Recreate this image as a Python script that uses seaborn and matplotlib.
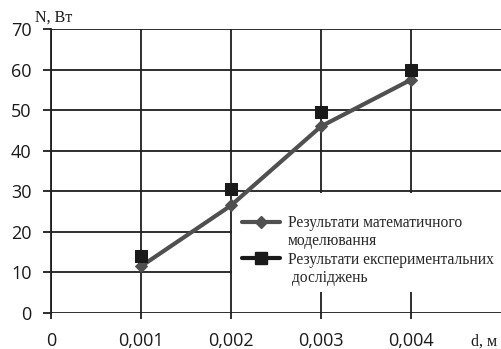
import matplotlib
matplotlib.use("Agg")
import matplotlib.pyplot as plt
import seaborn as sns
import pandas as pd
from matplotlib.lines import Line2D
from matplotlib.patches import Rectangle

# Data
d_values = [0.001, 0.002, 0.003, 0.004]
model_values = [11.5, 26.5, 46.0, 57.5]
exp_values = [14.0, 30.5, 49.5, 60.0]
x_ticks = [0, 0.001, 0.002, 0.003, 0.004]
x_tick_labels = ["0", "0,001", "0,002", "0,003", "0,004"]
y_ticks = [0, 10, 20, 30, 40, 50, 60, 70]
label_model = ["Результати математичного", "моделювання"]
label_exp = ["Результати експериментальних", " досліджень"]

df_model = pd.DataFrame({"d": d_values, "N": model_values})
df_exp = pd.DataFrame({"d": d_values, "N": exp_values})

sns.set_style("white")
plt.rcParams["font.family"] = ["Open Sans", "DejaVu Sans"]

fig = plt.figure(figsize=(5.02, 3.49), dpi=100)
ax = fig.add_axes([51 / 502, (349 - 313) / 349, 450 / 502, 284 / 349])

grid_color = "#1e1e1e"
model_color = "#505050"
exp_color = "#1a1a1a"

sns.lineplot(data=df_model, x="d", y="N", ax=ax, color=model_color, lw=3,
             marker="D", markersize=6, markeredgecolor=model_color, zorder=3, legend=False)
sns.scatterplot(data=df_exp, x="d", y="N", ax=ax, color=exp_color, marker="s", s=85,
                edgecolor=exp_color, zorder=4, legend=False)

ax.set_xlim(0, 0.005)
ax.set_ylim(0, 70)
ax.set_xticks(x_ticks)
ax.set_xticklabels(x_tick_labels)
ax.set_yticks(y_ticks)
ax.set_xlabel("")
ax.set_ylabel("")
ax.grid(True, color=grid_color, lw=1.3)
ax.set_axisbelow(True)
for s in ["top", "right", "bottom"]:
    ax.spines[s].set_visible(False)
ax.spines["left"].set_color(grid_color)
ax.spines["left"].set_linewidth(1.3)

ax.tick_params(axis="y", length=6, width=1.3, color=grid_color, pad=8, labelsize=13, left=True)
ax.tick_params(axis="x", length=4, width=1.3, color=grid_color, pad=10, labelsize=13, bottom=True)
for lab in ax.get_xticklabels() + ax.get_yticklabels():
    lab.set_color("#1a1a1a")

# white legend background (below the data, above the grid)
ax.add_patch(Rectangle(((232 - 51) / 450, (313 - 292) / 284), 1.0, (292 - 193) / 284,
                       transform=ax.transAxes, facecolor="white", edgecolor="none",
                       zorder=2, clip_on=False))

blank = Line2D([], [], color="none", lw=0)
handles = [
    Line2D([], [], color=model_color, lw=3, marker="D", markersize=6),
    blank,
    Line2D([], [], color=exp_color, lw=3, marker="s", markersize=8),
    blank,
]
labels = [label_model[0], label_model[1], label_exp[0], label_exp[1]]
leg = ax.legend(handles, labels, loc="upper left",
                bbox_to_anchor=((242 - 51) / 450, (313 - 215) / 284),
                frameon=False, borderpad=0, borderaxespad=0,
                prop={"family": "Liberation Serif", "size": 11.2},
                handlelength=2.45, handletextpad=0.5, labelspacing=0.15)
leg.set_zorder(5)

fig.text(35 / 502, 1 - 18 / 349, "N, Вт", family="Liberation Serif", fontsize=11.5,
         ha="left", va="center", color="#1a1a1a")
fig.text(484 / 502, 1 - 342 / 349, "d, м", family="Liberation Serif", fontsize=11.5,
         ha="center", va="center", color="#1a1a1a")

fig.savefig("out.png", dpi=100)
